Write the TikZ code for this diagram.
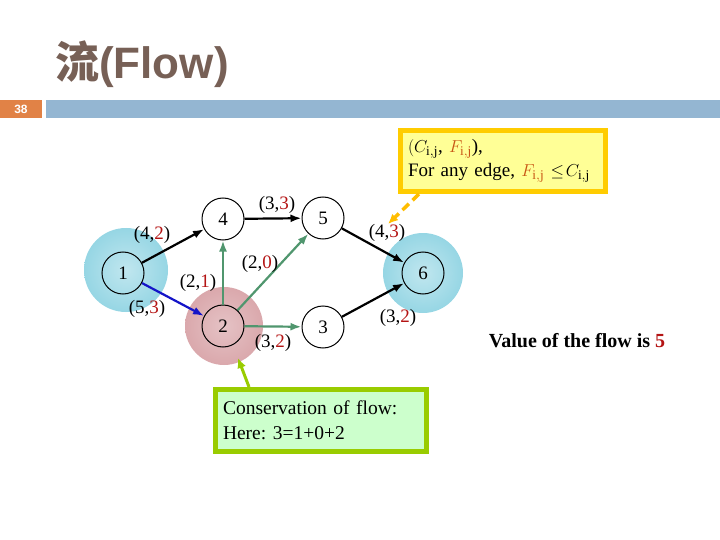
\documentclass[tikz,border=0pt]{standalone}
\usepackage{fontspec}
\setmainfont{Liberation Serif}
\newfontfamily\titlesans{Liberation Sans}
\newfontfamily\cjk{Noto Sans CJK SC}
\usepackage{tikz}
\usetikzlibrary{arrows.meta, calc}
\definecolor{titlebrown}{RGB}{119, 96, 86}
\definecolor{barblue}{RGB}{148, 182, 210}
\definecolor{barorange}{RGB}{225, 130, 70}
\definecolor{blobblue}{RGB}{150, 214, 228}
\definecolor{blobpink}{RGB}{218, 168, 172}
\definecolor{edgegreen}{RGB}{80, 150, 110}
\definecolor{edgeblue}{RGB}{20, 20, 200}
\definecolor{flowred}{RGB}{180, 20, 20}
\definecolor{noteorange}{RGB}{200, 85, 20}
\definecolor{noteyellow}{RGB}{255, 255, 150}
\definecolor{notegold}{RGB}{255, 204, 0}
\definecolor{notegreen}{RGB}{204, 255, 204}
\definecolor{notelime}{RGB}{153, 204, 0}
\frenchspacing

\begin{document}
\begin{tikzpicture}[x=1pt, y=-1pt,
    vertex/.style={circle, draw=black, line width=1pt, minimum size=42pt,
                   inner sep=0pt, font=\fontsize{19}{20}\selectfont},
    flowlabel/.style={inner sep=0pt, font=\fontsize{19}{20}\selectfont},
    arc/.style={-{Latex[length=11pt, width=8pt]}, line width=2.2pt},
    notebox/.style={rectangle, line width=5pt, align=left, inner sep=0pt,
                    font=\fontsize{19}{24}\selectfont}
]
\useasboundingbox (0,0) rectangle (720,540);

%% Title and header bar
\node[anchor=base west, inner sep=0pt, text=titlebrown,
      font=\fontsize{44}{48}\selectfont\bfseries] (title) at (55,79)
      {{\cjk 流}{\titlesans(Flow)}};
\fill[barorange] (0,100) rectangle (42,118);
\fill[barblue] (46,100) rectangle (720,118);
\node[text=white, font=\titlesans\bfseries\fontsize{12}{14}\selectfont] (page) at (21,109) {38};

%% Source and sink shading, conservation node
\shade[inner color=blobblue!60, outer color=blobblue] (126,270) circle (42);
\shade[inner color=blobblue!60, outer color=blobblue] (423,273) circle (40);
\shade[inner color=blobpink!70, outer color=blobpink] (224,326) circle (39);

%% Vertices
\node[vertex] (n1) at (123,273) {1};
\node[vertex] (n4) at (223,219) {4};
\node[vertex] (n5) at (323,218) {5};
\node[vertex] (n2) at (223,326) {2};
\node[vertex] (n3) at (323,327) {3};
\node[vertex] (n6) at (423,273) {6};

%% Edges
\draw[arc, black]     (n1) -- (n4);
\draw[arc, black]     (n4) -- (n5);
\draw[arc, edgeblue]  (n1) -- (n2);
\draw[arc, edgegreen] (n2) -- (n4);
\draw[arc, edgegreen] (n2) -- (n5);
\draw[arc, edgegreen] (n2) -- (n3);
\draw[arc, black]     (n5) -- (n6);
\draw[arc, black]     (n3) -- (n6);

%% Edge labels (capacity, flow)
\node[flowlabel] (c14) at (152,235) {(4,\textcolor{flowred}{2})};
\node[flowlabel] (c45) at (277,205) {(3,\textcolor{flowred}{3})};
\node[flowlabel] (c25) at (260,264) {(2,\textcolor{flowred}{0})};
\node[flowlabel] (c24) at (198,283) {(2,\textcolor{flowred}{1})};
\node[flowlabel] (c12) at (147,309) {(5,\textcolor{flowred}{3})};
\node[flowlabel] (c23) at (273,343) {(3,\textcolor{flowred}{2})};
\node[flowlabel] (c56) at (387,233) {(4,\textcolor{flowred}{3})};
\node[flowlabel] (c36) at (398,318) {(3,\textcolor{flowred}{2})};

%% Notes
\node[notebox, draw=notegold, fill=noteyellow, minimum width=205pt,
      minimum height=61pt, text width=190pt] (capnote) at (503,161)
      {$(C_{\mathrm{i,j}}$, \textcolor{noteorange}{$F_{\mathrm{i,j}}$}),\\
       For any edge, \textcolor{noteorange}{$F_{\mathrm{i,j}}$} $\le\! C_{\mathrm{i,j}}$};
\node[notebox, draw=notelime, fill=notegreen, minimum width=211pt,
      minimum height=62pt, text width=196pt,
      font=\fontsize{19.5}{25}\selectfont] (consnote) at (321,420.5)
      {Conservation of flow:\\Here: 3=1+0+2};

\coordinate (captip) at (388,224);
\coordinate (constip) at (238,358);
\draw[-{Latex[length=10pt, width=9pt]}, line width=3.5pt, notegold!80!orange,
      dash pattern=on 9pt off 5pt] ($(capnote.south west)+(21,0)$) -- (captip);
\draw[-{Latex[length=10pt, width=9pt]}, line width=3pt, notelime]
      ($(consnote.north west)+(36,0)$) -- (constip);

%% Flow value
\node[font=\fontsize{20}{22}\selectfont\bfseries] (value) at (577,341)
      {Value of the flow is \textcolor{flowred}{5}};

\end{tikzpicture}
\end{document}
